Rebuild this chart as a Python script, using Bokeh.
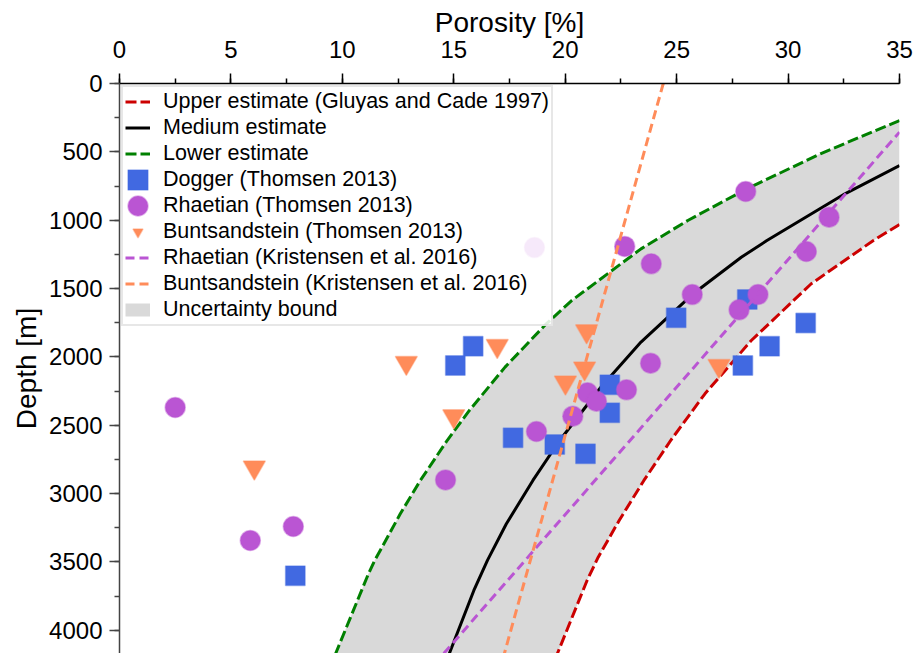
from bokeh.plotting import figure
from bokeh.models import Range1d, SingleIntervalTicker, Legend, LegendItem
from bokeh.embed import file_html
from bokeh.resources import INLINE

# Porosity-depth trend curves (porosity in %, depth in m)
upper_phi = [35.0, 33.83, 31.04, 28.35, 26.27, 24.73, 23.53, 22.42, 21.48, 20.98, 19.65]
upper_depth = [1031, 1148, 1465, 1880, 2270, 2612, 2904, 3197, 3465, 3636, 4170]

medium_phi = [35.0, 32.55, 29.05, 27.9, 25.7, 23.4, 21.6, 19.75, 18.55, 17.36, 16.51, 15.9, 14.8]
medium_depth = [600, 807, 1149, 1271, 1544, 1892, 2222, 2612, 2904, 3221, 3489, 3709, 4170]

lower_phi = [35.0, 31.45, 28.1, 25.5, 23.4, 20.3, 19.15, 17.3, 15.7, 14.7, 13.5, 12.6, 11.45, 11.17, 9.7]
lower_depth = [271, 514, 775, 1002, 1210, 1587, 1758, 2075, 2392, 2612, 2904, 3148, 3490, 3587, 4170]

# Well data (Thomsen 2013)
dogger_phi = [15.87, 15.07, 17.66, 19.53, 20.91, 22.0, 22.0, 24.98, 28.17, 30.79, 29.17, 27.97, 7.89]
dogger_depth = [1922, 2063, 2592, 2641, 2709, 2204, 2409, 1714, 1580, 1753, 1922, 2063, 3601]

rhaetian_phi = [2.5, 5.87, 7.8, 14.63, 18.71, 20.34, 21.0, 21.4, 22.75, 23.83,
                22.67, 23.86, 25.7, 27.8, 28.65, 28.1, 31.84, 30.82, 18.62]
rhaetian_depth = [2370, 3343, 3241, 2900, 2546, 2434, 2263, 2324, 2241, 2046,
                  1192, 1319, 1544, 1656, 1544, 790, 978, 1229, 1200]

bunt_phi = [12.87, 16.95, 15.0, 20.96, 20.87, 20.01, 26.9, 6.05]
bunt_depth = [2043, 1919, 2434, 1812, 2083, 2187, 2065, 2809]

# Linear trends (Kristensen et al. 2016)
rhaetian_k_phi = [14.55, 35.0]
rhaetian_k_depth = [4170, 356]
bunt_k_phi = [24.4, 17.27]
bunt_k_depth = [0, 4170]

FONT = "Liberation Sans"
RED, GREEN = "#cc0000", "#008000"
BLUE, PURPLE, ORANGE = "#4169e1", "#ba55d3", "#ff8c5a"
BAND = "#d9d9d9"

p = figure(width=914, height=653,
           x_range=Range1d(0, 35), y_range=Range1d(4170, 0),
           x_axis_location="above", y_axis_location="left",
           output_backend="svg", toolbar_location=None,
           min_border_left=119, min_border_right=15,
           min_border_top=83, min_border_bottom=0)
p.outline_line_color = None
p.grid.visible = False
p.background_fill_color = "white"

# uncertainty band between the lower and upper estimates
band_phi = lower_phi + upper_phi[::-1]
band_depth = lower_depth + upper_depth[::-1]
p.patch(band_phi, band_depth, fill_color=BAND, line_color=None)
# legend key for the band: a wide grey bar (renderer itself is hidden)
band_key = p.line(lower_phi, lower_depth, line_color=BAND, line_width=13, visible=False)

r_up = p.line(upper_phi, upper_depth, line_color=RED, line_width=3, line_dash="11 4")
r_med = p.line(medium_phi, medium_depth, line_color="black", line_width=3)
r_low = p.line(lower_phi, lower_depth, line_color=GREEN, line_width=3, line_dash="11 4")

r_dog = p.rect(x=dogger_phi, y=dogger_depth, width=19.5, height=19.5,
               width_units="screen", height_units="screen",
               fill_color=BLUE, line_color=BLUE, line_alpha=0.45, line_width=1.5)
r_rha = p.ellipse(x=rhaetian_phi, y=rhaetian_depth, width=20, height=20,
                  width_units="screen", height_units="screen",
                  fill_color=PURPLE, line_color=PURPLE, line_alpha=0.45, line_width=1.5)
r_bun = p.scatter(x=bunt_phi, y=bunt_depth, marker="inverted_triangle", size=22,
                  fill_color=ORANGE, line_color=ORANGE, line_alpha=0.45, line_width=1.5)

r_rk = p.line(rhaetian_k_phi, rhaetian_k_depth, line_color=PURPLE, line_width=3, line_dash="9 5")
r_bk = p.line(bunt_k_phi, bunt_k_depth, line_color=ORANGE, line_width=3, line_dash="9 5")

# axes
xa = p.xaxis[0]
ya = p.yaxis[0]
xa.ticker = SingleIntervalTicker(interval=5, num_minor_ticks=2)
ya.ticker = SingleIntervalTicker(interval=500, num_minor_ticks=2)
xa.axis_label = "Porosity [%]"
ya.axis_label = "Depth [m]"
for ax, col in ((xa, "black"), (ya, "#444444")):
    ax.axis_label_text_font = FONT
    ax.axis_label_text_font_size = "28px"
    ax.axis_label_text_font_style = "normal"
    ax.axis_label_text_color = "black"
    ax.major_label_text_font = FONT
    ax.major_label_text_font_size = "24px"
    ax.major_label_text_color = "black"
    ax.axis_line_color = col
    ax.axis_line_width = 1.5
    ax.major_tick_line_color = col
    ax.minor_tick_line_color = col
    ax.major_tick_line_width = 1.5
    ax.minor_tick_line_width = 1.5
    ax.major_tick_out = 10
    ax.major_tick_in = 0
    ax.minor_tick_out = 5
    ax.minor_tick_in = 0
xa.major_label_standoff = 16
xa.axis_label_standoff = 0
ya.major_label_standoff = 7
ya.axis_label_standoff = 4

legend = Legend(items=[
    LegendItem(label="Upper estimate (Gluyas and Cade 1997)", renderers=[r_up]),
    LegendItem(label="Medium estimate", renderers=[r_med]),
    LegendItem(label="Lower estimate", renderers=[r_low]),
    LegendItem(label="Dogger (Thomsen 2013)", renderers=[r_dog]),
    LegendItem(label="Rhaetian (Thomsen 2013)", renderers=[r_rha]),
    LegendItem(label="Buntsandstein (Thomsen 2013)", renderers=[r_bun]),
    LegendItem(label="Rhaetian (Kristensen et al. 2016)", renderers=[r_rk]),
    LegendItem(label="Buntsandstein (Kristensen et al. 2016)", renderers=[r_bk]),
    LegendItem(label="Uncertainty bound", renderers=[band_key]),
], location="top_left")
legend.label_text_font = FONT
legend.label_text_font_size = "21.5px"
legend.label_text_color = "black"
legend.glyph_width = 25
legend.glyph_height = 25
legend.label_height = 20
legend.spacing = 1
legend.padding = 2
legend.margin = 2
legend.label_standoff = 13
legend.border_line_color = "#d0d0d0"
legend.border_line_width = 2
legend.background_fill_color = "white"
legend.background_fill_alpha = 0.87
legend.inactive_fill_alpha = 0
p.add_layout(legend)

open("out.html", "w").write(file_html(p, INLINE))
